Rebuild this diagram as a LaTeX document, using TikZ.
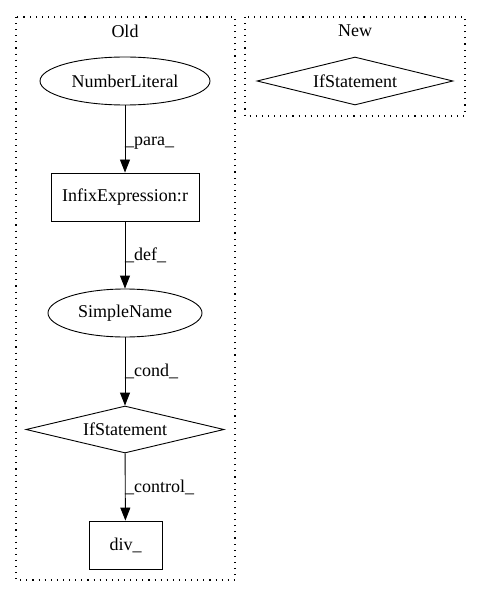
\documentclass[tikz,border=0pt]{standalone}
\usepackage{fontspec}
\setmainfont{Liberation Serif}
\usepackage{tikz}
\usetikzlibrary{shapes.geometric, arrows.meta}

\begin{document}
\begin{tikzpicture}[x=1pt, y=-1pt,
    every node/.style={font=\fontsize{18}{21}\selectfont},
    cluster/.style={draw, line width=1.1pt, dash pattern=on 1.1pt off 5pt},
    oval/.style={ellipse, draw, line width=0.9pt, inner sep=0pt},
    box/.style={rectangle, draw, line width=0.9pt, inner sep=0pt},
    cond/.style={diamond, aspect=4.2, draw, line width=0.9pt, inner sep=0pt, minimum width=198pt, minimum height=47pt},
    edge/.style={line width=0.9pt, -{Triangle[length=13pt, width=10pt]}},
    elabel/.style={anchor=west, inner sep=0pt}]
    \useasboundingbox (0,0) rectangle (480,596);

    % Draw the two clusters
    \draw[cluster] (16,17) rectangle (235,580);
    \draw[cluster] (245,17) rectangle (465,116);
    \node (OldTitle) at (125,31) {Old};
    \node (NewTitle) at (355,31) {New};

    % Nodes of the old cluster
    \node[oval, minimum width=170pt, minimum height=48pt] (NumLit) at (125,81) {NumberLiteral};
    \node[box, minimum width=148pt, minimum height=48pt] (Infix) at (125,197) {InfixExpression:r};
    \node[oval, minimum width=154pt, minimum height=48pt] (SimpName) at (125,313) {SimpleName};
    \node[cond] (OldIf) at (125,429.5) {IfStatement};
    \node[box, minimum width=73pt, minimum height=48pt] (Div) at (125.5,545) {div\_};

    % Node of the new cluster
    \node[cond, minimum width=196pt, minimum height=48pt] (NewIf) at (355,81) {IfStatement};

    % Connect the nodes
    \draw[edge] (NumLit) -- (Infix);
    \draw[edge] (Infix) -- (SimpName);
    \draw[edge] (SimpName) -- (OldIf);
    \draw[edge] (OldIf) -- (Div);

    % Edge labels
    \node[elabel] (LPara) at (125,143) {\_para\_};
    \node[elabel] (LDef) at (125,255) {\_def\_};
    \node[elabel] (LCond) at (125,371) {\_cond\_};
    \node[elabel] (LCtrl) at (125,487) {\_control\_};
\end{tikzpicture}
\end{document}
